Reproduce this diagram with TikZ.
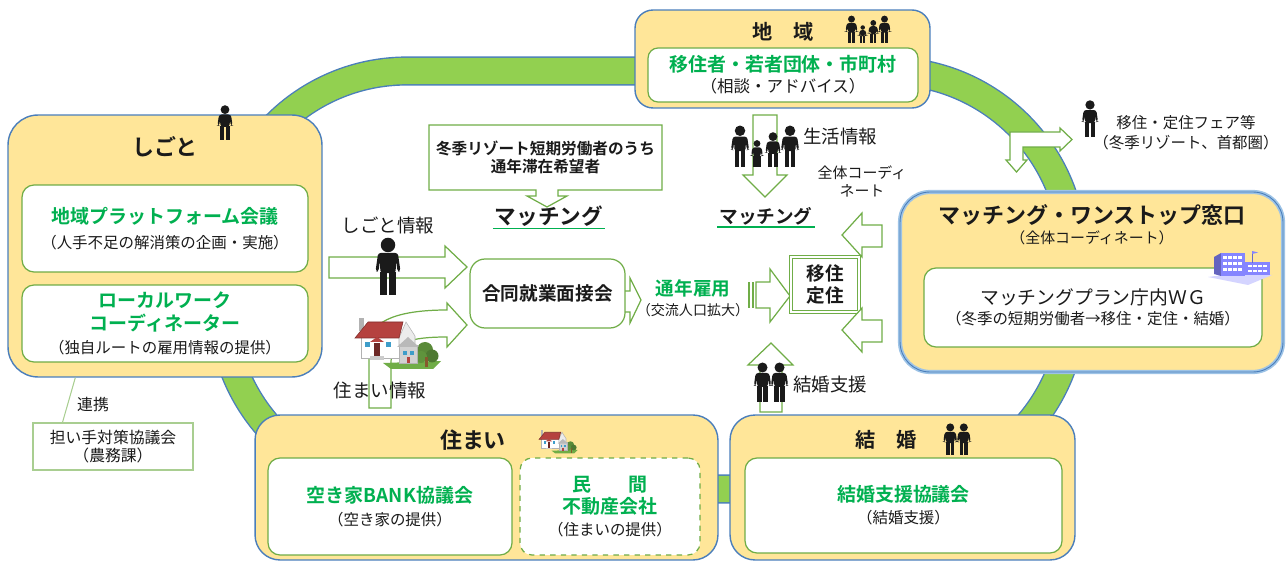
\documentclass[tikz,border=0pt]{standalone}
\usepackage{fontspec}
\setmainfont{Noto Sans CJK JP}[BoldFont={Noto Sans CJK JP Bold}]
\usetikzlibrary{positioning,calc}

\definecolor{areafill}{HTML}{FFE699}
\definecolor{areaedge}{HTML}{4A7EBB}
\definecolor{ringgreen}{HTML}{92D050}
\definecolor{leafgreen}{HTML}{70AD47}
\definecolor{textgreen}{HTML}{00B050}
\definecolor{glowblue}{HTML}{9DC3E6}
\definecolor{roofred}{HTML}{B5423F}
\definecolor{winblue}{HTML}{3E9DC9}
\definecolor{schoolblue}{HTML}{8585FF}
\definecolor{inkblack}{HTML}{1A1A1A}

\newcommand{\fs}[2]{\fontsize{#1}{#2}\selectfont}
\newcommand{\gtitle}{\color{textgreen}\bfseries\fs{10.8}{13}}

% silhouettes and little clip-art (local units: px, y down)
\tikzset{
    person/.pic={
        \fill[inkblack] (0,-34.5) circle (5);
        \fill[inkblack, rounded corners=1.5] (-6.8,-29) -- (6.8,-29) -- (8.6,-16.5) -- (6.6,-16) -- (5.6,-23.5) -- (5.2,-15)
            -- (-5.2,-15) -- (-5.6,-23.5) -- (-6.6,-16) -- (-8.6,-16.5) -- cycle;
        \fill[inkblack] (-5.2,-16) rectangle (-0.6,0);
        \fill[inkblack] (0.6,-16) rectangle (5.2,0);
    },
    pics/family/.style={code={
        \pic[scale=1.05*#1] at (-25*#1,0) {person};
        \pic[scale=0.68*#1] at (-8*#1,0) {person};
        \pic[scale=0.88*#1] at (8*#1,0) {person};
        \pic[scale=1.05*#1] at (25*#1,0) {person};
    }},
    pics/family/.default=1,
    pics/couple/.style={code={
        \pic[scale=#1] at (-8.5*#1,0) {person};
        \pic[scale=#1] at (8.5*#1,0) {person};
    }},
    pics/couple/.default=1,
    cottage/.pic={
        \fill[leafgreen] (28,46) -- (86,44) -- (78,52) -- (36,52) -- cycle;
        \fill[leafgreen!80!black] (70,33) circle (8);
        \fill[leafgreen!70!black] (77,39) circle (6.5);
        \fill[leafgreen!85!black] (66,40) circle (6);
        \fill[brown!70!black] (70,40) rectangle (73,50);
        \fill[gray!60] (4,1) rectangle (9,14);
        \fill[white, draw=gray!60, line width=0.3pt] (6,19) rectangle (44,41);
        \fill[gray!15, draw=gray!60, line width=0.3pt] (44,21) -- (51,5) -- (60,19) -- (60,28) -- (44,28) -- cycle;
        \fill[roofred, draw=roofred!70!black, line width=0.3pt] (0,21) -- (13,5) -- (48,5) -- (44,21) -- cycle;
        \fill[gray!35, draw=gray!60, line width=0.3pt] (44,28) rectangle (62,46);
        \fill[gray!55] (42,30) -- (53,20) -- (64,30) -- cycle;
        \fill[winblue] (10,25) rectangle ++(5,5);
        \fill[winblue] (31,25) rectangle ++(5,5);
        \fill[winblue] (48,34) rectangle ++(4,4);
        \fill[winblue] (55,34) rectangle ++(4,4);
        \fill[roofred] (15,25) -- (22,20) -- (29,25) -- cycle;
        \fill[roofred!60!black] (19,26) rectangle (25,39);
        \fill[gray!40] (15,39) rectangle (29,43);
        \fill[roofred] (52,40) rectangle (55,46);
    },
    schoolhouse/.pic={
        \fill[schoolblue!35] (0,29) -- (38,24) -- (64,27) -- (40,37) -- cycle;
        \fill[schoolblue!75!black] (6,9) -- (13,5) -- (13,28) -- (6,26) -- cycle;
        \fill[schoolblue] (13,5) rectangle (37,28);
        \fill[schoolblue] (37,14) rectangle (62,27);
        \foreach \wy in {8,14,20}
            \foreach \wx in {15,20,25,30}
                \fill[white] (\wx,\wy) rectangle ++(3.5,3);
        \foreach \wy in {17,22}
            \foreach \wx in {40,45,50,55}
                \fill[white] (\wx,\wy) rectangle ++(3.5,2.5);
        \draw[schoolblue!80!black, line width=0.4pt] (44,15) -- (44,3);
        \fill[schoolblue] (44,3) -- (50,4.5) -- (44,6) -- cycle;
    }
}

\begin{document}
\begin{tikzpicture}[
    x=0.02cm, y=-0.02cm,
    font=\fs{10.5}{13},
    text=inkblack,
    areabox/.style={draw=areaedge, fill=areafill, line width=0.8pt},
    innerbox/.style={draw=leafgreen, fill=white, line width=0.7pt, rounded corners=0.24cm, align=center, inner sep=0pt},
    titletext/.style={font=\bfseries\fs{12.5}{14}},
    blockarrow/.style={draw=leafgreen, fill=white, line width=0.7pt, line join=miter},
    label/.style={align=center, inner sep=0pt},
    ringedge/.style={draw=areaedge, line width=16.6pt, rounded corners=3.7cm},
    ringband/.style={draw=ringgreen, line width=15pt, rounded corners=3.7cm}
]
    \useasboundingbox (0,0) rectangle (1287,563);

    % green loop behind all areas
    \draw[ringedge] (222,71) rectangle (1073,489);
    \draw[ringband] (222,71) rectangle (1073,489);

    % fair arrow branching off the loop
    \draw[blockarrow] (1010,132) -- (1060,132) -- (1060,128) -- (1072,139.5) -- (1060,151) -- (1060,147) -- (1023,147)
        -- (1023,160) -- (1027,160) -- (1016.5,172) -- (1006,160) -- (1010,160) -- cycle;
    \pic[scale=0.93] at (1090,137) {person};
    \node[label, font=\fs{8.8}{11.3}] (fair) at (1186,133) {移住・定住フェア等\\（冬季リゾート、首都圏）};

    % 地域
    \node[areabox, rounded corners=0.36cm, minimum width=5.9cm, minimum height=1.96cm] (chiiki) at (782.5,59) {};
    \node[titletext, font=\bfseries\fs{11.5}{14}] at (783,32) {地　域};
    \pic at (868,43) {family=0.66};
    \node[innerbox, rounded corners=0.2cm, minimum width=5.4cm, minimum height=1.08cm, font=\fs{9.4}{12}] (soudan) at (783,75)
        {{\gtitle 移住者・若者団体・市町村}\\（相談・アドバイス）};

    % しごと
    \node[areabox, rounded corners=0.6cm, minimum width=6.28cm, minimum height=5.24cm] (shigoto) at (165,246) {};
    \node[titletext] at (165,147) {しごと};
    \pic[scale=0.88] at (225,140) {person};
    \node[innerbox, minimum width=5.72cm, minimum height=1.74cm, font=\fs{8.8}{14.2}] (platform) at (165,228.5)
        {{\gtitle 地域プラットフォーム会議}\\（人手不足の解消策の企画・実施）};
    \node[innerbox, minimum width=5.72cm, minimum height=1.54cm, font=\fs{8.8}{13}] (localwork) at (165,323.5)
        {{\gtitle ローカルワーク}\\{\gtitle コーディネーター}\\（独自ルートの雇用情報の提供）};

    % 連携先
    \node[draw=leafgreen!60, fill=white, line width=0.6pt, minimum width=3.2cm, minimum height=0.94cm, align=center,
        inner sep=0pt, font=\fs{9}{10.2}] (ninaite) at (113,446.5) {担い手対策協議会\\（農務課）};
    \draw[leafgreen!60, line width=0.6pt] ([xshift=1.36cm]shigoto.south west) -- ([xshift=0.6cm]ninaite.north west);
    \node[label, font=\fs{9}{11}] at (93,405) {連携};

    % 住まい
    \node[areabox, rounded corners=0.5cm, minimum width=9.26cm, minimum height=2.9cm] (sumai) at (486.5,487.5) {};
    \node[titletext] at (473,440) {住まい};
    \pic[scale=0.45] at (539,430) {cottage};
    \node[innerbox, minimum width=4.88cm, minimum height=1.94cm, font=\fs{8.8}{13}] (akiya) at (390,506.5)
        {{\gtitle 空き家BANK協議会}\\（空き家の提供）};
    \node[innerbox, dashed, minimum width=3.6cm, minimum height=1.94cm, font=\fs{8.8}{12.5}] (fudosan) at (610,506.5)
        {{\gtitle 民　　間}\\{\gtitle 不動産会社}\\（住まいの提供）};

    % 結婚
    \node[areabox, rounded corners=0.5cm, minimum width=6.9cm, minimum height=2.9cm] (kekkon) at (902.5,487.5) {};
    \node[titletext, font=\bfseries\fs{11.5}{14}] at (886,440) {結　婚};
    \pic at (957,455) {couple=0.8};
    \node[innerbox, minimum width=6.34cm, minimum height=1.9cm, font=\fs{8.8}{12.5}] (kekkonkyo) at (903.5,505.5)
        {{\gtitle 結婚支援協議会}\\（結婚支援）};

    % マッチング・ワンストップ窓口
    \node[areabox, draw=glowblue, line width=2.4pt, rounded corners=0.6cm, minimum width=7.66cm, minimum height=3.6cm,
        postaction={draw=areaedge, line width=0.5pt}] (madoguchi) at (1091.5,282) {};
    \node[titletext] at (1092,215) {マッチング・ワンストップ窓口};
    \node[label, font=\fs{8.5}{10}] at (1092,238) {（全体コーディネート）};
    \node[innerbox, minimum width=6.76cm, minimum height=1.58cm, font=\fs{8.8}{11.3}] (wg) at (1093,307.5)
        {{\fs{10.7}{11.3}マッチングプラン庁内ＷＧ}\\（冬季の短期労働者→移住・定住・結婚）};
    \pic at (1208,248) {schoolhouse};

    % 冬季リゾート短期労働者の吹き出し
    \draw[blockarrow] (429,125) -- (662,125) -- (662,190) -- (558,190) -- (558,196) -- (567,196) -- (547,207)
        -- (527,196) -- (536,196) -- (536,190) -- (429,190) -- cycle;
    \node[label, font=\color{textgreen}\bfseries\fs{8.9}{10.2}] (kibou) at (545.5,157)
        {冬季リゾート短期労働者のうち\\通年滞在希望者};
    \node[label, inner sep=1pt, font=\color{textgreen}\bfseries\fs{12.3}{14}] (match1) at (549,216) {マッチング};
    \draw[textgreen, line width=0.8pt] (match1.south west) -- (match1.south east);

    % しごと情報・住まい情報
    \node[label] at (388,225) {しごと情報};
    \draw[blockarrow] (329,257) -- (445,257) -- (445,246) -- (467,267) -- (445,288) -- (445,278) -- (329,278) -- cycle;
    \pic[scale=1.45] at (388,295) {person};
    \draw[blockarrow] (369,408) -- (369,345) .. controls (369,318) and (405,310) .. (447,310) -- (447,303) -- (467,325)
        -- (447,347) -- (447,337) .. controls (412,337) and (391,342) .. (391,362) -- (391,408) -- cycle;
    \pic at (355,317) {cottage};
    \node[label] at (380,390) {住まい情報};

    % 合同就業面接会 → 通年雇用 → 移住定住
    \draw[blockarrow] (618,291) -- (630,291) -- (630,278) -- (641,300) -- (630,323) -- (630,312) -- (618,312) -- cycle;
    \node[innerbox, rounded corners=0.3cm, minimum width=3.1cm, minimum height=1.38cm,
        font=\color{textgreen}\bfseries\fs{10.6}{12}] (mensetsu) at (547.5,293.5) {合同就業面接会};
    \node[label, font=\fs{8}{11.3}] (koyou) at (693,298) {{\color{textgreen}\bfseries\fs{10.6}{11.3}通年雇用}\\（交流人口拡大）};
    \fill[leafgreen] (748,282) rectangle (750,308);
    \fill[leafgreen] (752,282) rectangle (754,308);
    \draw[blockarrow] (756,282) -- (770,282) -- (770,269) -- (790,296) -- (770,322) -- (770,308) -- (756,308) -- cycle;
    \node[draw=leafgreen, double=white, double distance=1.2pt, line width=0.6pt, fill=white, minimum width=1.36cm,
        minimum height=1.1cm, align=center, inner sep=0pt, font=\color{textgreen}\bfseries\fs{10.6}{12}] (teijuu)
        at (825,284.5) {移住\\定住};

    % 生活情報
    \draw[blockarrow] (753,115) -- (777,115) -- (777,175) -- (787,175) -- (765,197) -- (743,175) -- (753,175) -- cycle;
    \pic at (765,167) {family};
    \node[label] at (840,137) {生活情報};
    \node[label, inner sep=1pt, font=\color{textgreen}\bfseries\fs{10.6}{12}] (match2) at (766,216) {マッチング};
    \draw[textgreen, line width=0.7pt] (match2.south west) -- (match2.south east);

    % 全体コーディネート
    \node[label, font=\fs{8.5}{10.2}] at (862,181) {全体コーディ\\ネート};
    \draw[blockarrow] (882,225) -- (862,225) -- (862,213) -- (842,235) -- (862,257) -- (862,247) -- (882,247) -- cycle;
    \draw[blockarrow] (882,320) -- (862,320) -- (862,308) -- (842,330) -- (862,352) -- (862,342) -- (882,342) -- cycle;

    % 結婚支援
    \draw[blockarrow] (760,412) -- (760,365) -- (748,365) -- (771,343) -- (793,365) -- (782,365) -- (782,412) -- cycle;
    \pic at (771,402) {couple};
    \node[label] at (830,385) {結婚支援};

\end{tikzpicture}
\end{document}
